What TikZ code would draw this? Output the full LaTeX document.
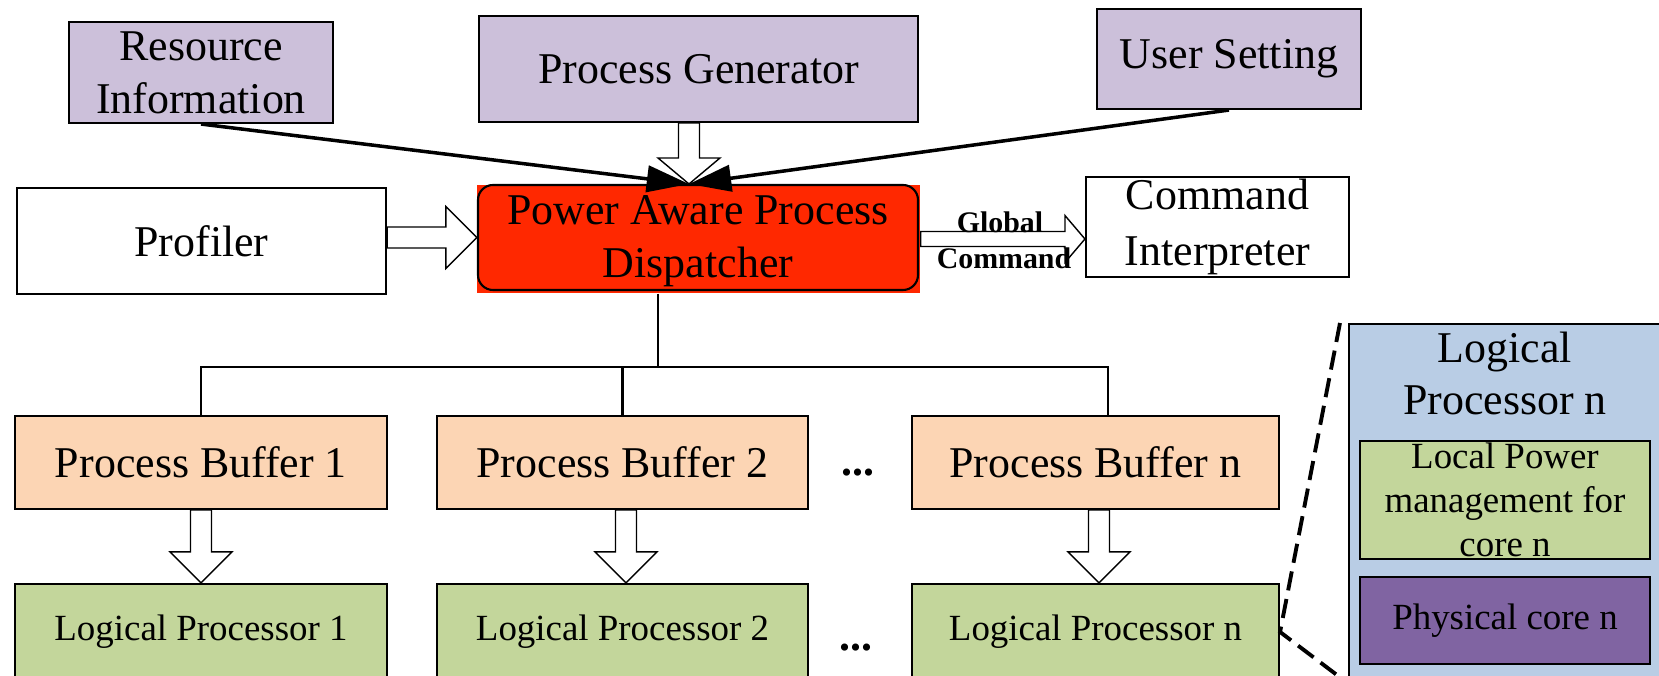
\documentclass[tikz,border=0pt]{standalone}
\usepackage{fontspec}
\setmainfont{Liberation Serif}
\usetikzlibrary{arrows.meta,calc}

\definecolor{lilac}{RGB}{204,192,218}
\definecolor{peach}{RGB}{252,213,180}
\definecolor{leaf}{RGB}{195,214,155}
\definecolor{sky}{RGB}{185,205,229}
\definecolor{plum}{RGB}{128,100,162}
\definecolor{hotred}{RGB}{255,40,0}

\tikzset{
  box/.style={shape=rectangle, draw=black, semithick, align=center, inner sep=0pt,
    font=\fontsize{12.5}{15}\selectfont},
  small/.style={font=\fontsize{10.5}{12.5}\selectfont},
  zoomline/.style={line width=1.1pt, dash pattern=on 5.5pt off 2.5pt},
}

% hollow block arrow: from, to, shaft half width, head half width, head length (cm)
\newcommand{\hollowarrow}[5]{%
  \path[draw=black, thin, fill=white] let \p1=#1, \p2=#2,
    \n1={atan2(\y2-\y1,\x2-\x1)}, \n2={veclen(\x2-\x1,\y2-\y1)} in
    [shift={(\p1)}, rotate=\n1]
    (0pt,-#3cm) -- ({\n2-#5cm},-#3cm) -- ({\n2-#5cm},-#4cm) -- ({\n2},0pt)
    -- ({\n2-#5cm},#4cm) -- ({\n2-#5cm},#3cm) -- (0pt,#3cm) -- cycle;}

\begin{document}
\begin{tikzpicture}
\clip (0,0) rectangle (16.59,6.76);
\node[box, fill=lilac, minimum width=2.64cm, minimum height=1.01cm] (res) at (2.01,6.035) {Resource\\Information};
\node[box, fill=lilac, minimum width=4.39cm, minimum height=1.06cm] (gen) at (6.985,6.07) {Process Generator};
\node[box, fill=lilac, minimum width=2.64cm, minimum height=1.00cm] (user) at (12.29,6.17) {User Setting};
\node[box, minimum width=3.69cm, minimum height=1.06cm] (prof) at (2.015,4.35) {Profiler};
\node[shape=rectangle, fill=hotred, minimum width=4.43cm, minimum height=1.08cm] (dispbg) at (6.985,4.37) {};
\node[box, rounded corners=0.15cm, fill=hotred, minimum width=4.40cm, minimum height=1.05cm] (disp) at (6.98,4.385) {};
\node[align=center, inner sep=0pt, font=\fontsize{12.5}{15}\selectfont] (dispt) at (6.98,4.35) {Power Aware Process\\Dispatcher};
\node[box, font=\fontsize{12.5}{16}\selectfont, minimum width=2.63cm, minimum height=1.00cm] (cmd) at (12.175,4.49) {Command\\Interpreter};

\node[box, fill=peach, minimum width=3.72cm, minimum height=0.93cm] (pb1) at (2.01,2.135) {Process Buffer 1};
\node[box, fill=peach, minimum width=3.71cm, minimum height=0.93cm] (pb2) at (6.225,2.135) {Process Buffer 2};
\node[box, fill=peach, minimum width=3.67cm, minimum height=0.93cm] (pbn) at (10.955,2.135) {Process Buffer n};
\node[box, small, fill=leaf, minimum width=3.72cm, minimum height=0.96cm] (lp1) at (2.01,0.44) {Logical Processor 1};
\node[box, small, fill=leaf, minimum width=3.71cm, minimum height=0.96cm] (lp2) at (6.225,0.44) {Logical Processor 2};
\node[box, small, fill=leaf, minimum width=3.67cm, minimum height=0.96cm] (lpn) at (10.955,0.44) {Logical Processor n};
\node[font=\fontsize{12.5}{15}\selectfont\bfseries, inner sep=0pt] (dt1) at (8.58,2.03) {...};
\node[font=\fontsize{12.5}{15}\selectfont\bfseries, inner sep=0pt] (dt2) at (8.56,0.28) {...};

\node[box, fill=sky, minimum width=3.13cm, minimum height=3.66cm] (core) at (15.055,1.69) {};
\node[align=center, inner sep=0pt, font=\fontsize{12.5}{15}\selectfont] (coret) at (15.05,3.025) {Logical\\Processor n};
\node[box, small, fill=leaf, minimum width=2.90cm, minimum height=1.18cm] (lpm) at (15.05,1.76) {Local Power\\management for\\core n};
\node[box, small, fill=plum, minimum width=2.90cm, minimum height=0.87cm] (phys) at (15.05,0.555) {Physical core n};

\coordinate (hub) at (6.89,4.92);
\coordinate (bus) at (6.58,3.09);
\coordinate (busr) at (11.08,3.09);
\coordinate (zt) at (13.40,3.53);
\coordinate (zb) at (13.70,-0.24);

\draw [-{Triangle[length=12pt,width=7.5pt]}, line width=1pt] (res.south) -- (hub);
\draw [-{Triangle[length=12pt,width=7.5pt]}, line width=1pt] (user.south) -- (hub);
\hollowarrow{(gen.south -| hub)}{(hub)}{0.105}{0.31}{0.26}
\hollowarrow{(disp.west -| prof.east)}{(disp.west)}{0.105}{0.31}{0.31}
\hollowarrow{(dispbg.east)}{(dispbg.east -| cmd.west)}{0.075}{0.235}{0.20}
\node[font=\fontsize{8.5}{10}\selectfont\bfseries, inner sep=0pt] (glob) at (10.00,4.54) {Global};
\node[font=\fontsize{8.5}{10}\selectfont\bfseries, inner sep=0pt] (gcmd) at (10.04,4.18) {Command};

\draw[semithick] (dispbg.south -| bus) -- (bus);
\draw[semithick] (pb1.north) |- (busr) -- (busr |- pbn.north);
\draw[semithick] (pb2.north) -- (pb2.north |- bus);
\hollowarrow{(pb1.south)}{(lp1.north)}{0.105}{0.31}{0.31}
\hollowarrow{([xshift=0.035cm]pb2.south)}{([xshift=0.035cm]lp2.north)}{0.105}{0.31}{0.31}
\hollowarrow{([xshift=0.035cm]pbn.south)}{([xshift=0.035cm]lpn.north)}{0.105}{0.31}{0.31}

\draw[zoomline] (zt) -- (lpn.east) -- (zb);
\end{tikzpicture}
\end{document}
